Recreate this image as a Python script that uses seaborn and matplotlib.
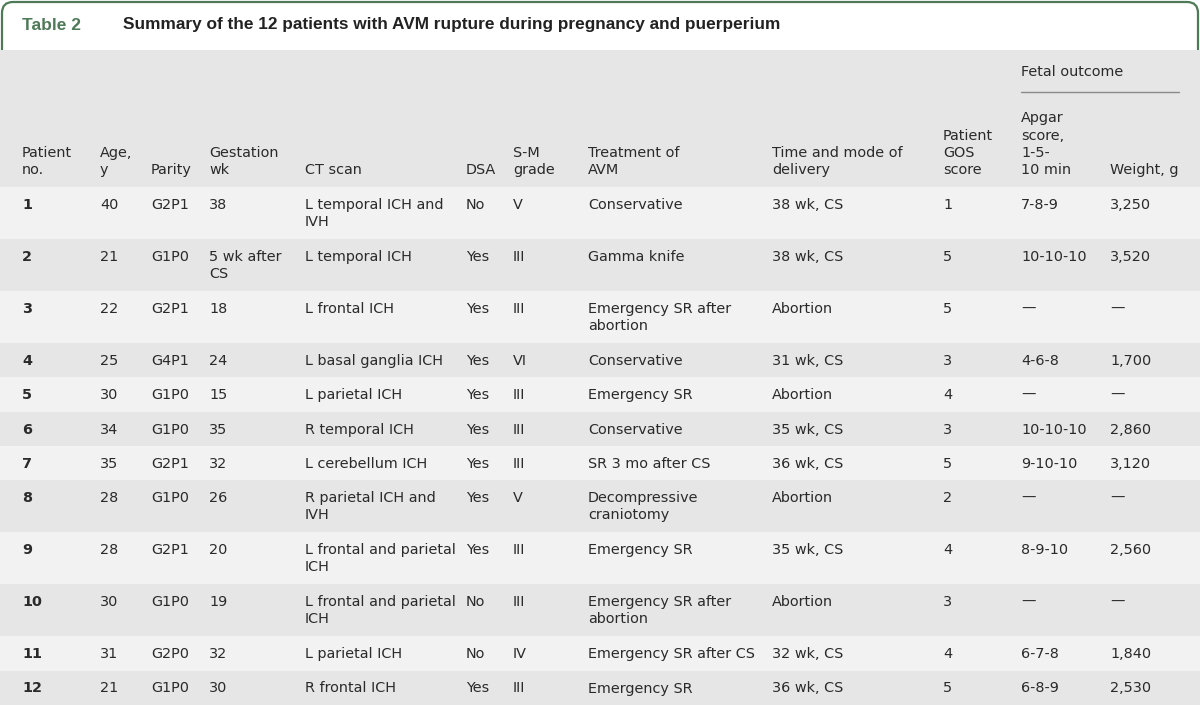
import matplotlib
matplotlib.use("Agg")
import matplotlib.pyplot as plt
from matplotlib.patches import Rectangle, FancyBboxPatch
import seaborn as sns

# table content
header_labels = ["Patient\nno.", "Age,\ny", "Parity", "Gestation\nwk", "CT scan", "DSA",
                 "S-M\ngrade", "Treatment of\nAVM", "Time and mode of\ndelivery",
                 "Patient\nGOS\nscore", "Apgar\nscore,\n1-5-\n10 min", "Weight, g"]
patient_no = ["1", "2", "3", "4", "5", "6", "7", "8", "9", "10", "11", "12"]
ages = ["40", "21", "22", "25", "30", "34", "35", "28", "28", "30", "31", "21"]
parity = ["G2P1", "G1P0", "G2P1", "G4P1", "G1P0", "G1P0", "G2P1", "G1P0", "G2P1",
          "G1P0", "G2P0", "G1P0"]
gestation = ["38", "5 wk after\nCS", "18", "24", "15", "35", "32", "26", "20", "19",
             "32", "30"]
ct_scan = ["L temporal ICH and\nIVH", "L temporal ICH", "L frontal ICH",
           "L basal ganglia ICH", "L parietal ICH", "R temporal ICH",
           "L cerebellum ICH", "R parietal ICH and\nIVH",
           "L frontal and parietal\nICH", "L frontal and parietal\nICH",
           "L parietal ICH", "R frontal ICH"]
dsa = ["No", "Yes", "Yes", "Yes", "Yes", "Yes", "Yes", "Yes", "Yes", "No", "No", "Yes"]
sm_grade = ["V", "III", "III", "VI", "III", "III", "III", "V", "III", "III", "IV", "III"]
treatment = ["Conservative", "Gamma knife", "Emergency SR after\nabortion",
             "Conservative", "Emergency SR", "Conservative", "SR 3 mo after CS",
             "Decompressive\ncraniotomy", "Emergency SR",
             "Emergency SR after\nabortion", "Emergency SR after CS", "Emergency SR"]
delivery = ["38 wk, CS", "38 wk, CS", "Abortion", "31 wk, CS", "Abortion",
            "35 wk, CS", "36 wk, CS", "Abortion", "35 wk, CS", "Abortion",
            "32 wk, CS", "36 wk, CS"]
gos = ["1", "5", "5", "3", "4", "3", "5", "2", "4", "3", "4", "5"]
apgar = ["7-8-9", "10-10-10", "—", "4-6-8", "—", "10-10-10", "9-10-10", "—",
         "8-9-10", "—", "6-7-8", "6-8-9"]
weight = ["3,250", "3,520", "—", "1,700", "—", "2,860", "3,120", "—", "2,560",
          "—", "1,840", "2,530"]

columns = [patient_no, ages, parity, gestation, ct_scan, dsa, sm_grade, treatment,
           delivery, gos, apgar, weight]

sns.set_theme(style="white")
plt.rcParams["font.family"] = ["DejaVu Sans"]

W, H = 1200, 705
fig = plt.figure(figsize=(W / 100, H / 100), dpi=100)
ax = fig.add_axes([0, 0, 1, 1])
ax.set_xlim(0, W)
ax.set_ylim(H, 0)
ax.axis("off")

green = "#4e7a58"
text_col = "#2a2a2a"
fs = 10.4

col_x = [22, 100, 151, 209, 305, 466, 513, 588, 772, 943, 1021, 1110]

# title box with rounded top corners (bottom hidden under header)
ax.add_patch(FancyBboxPatch((2, 2), W - 4, 90, boxstyle="round,pad=0,rounding_size=11",
                            fill=False, edgecolor=green, lw=1.6, zorder=1))
ax.text(22, 25, "Table 2", color=green, fontsize=12.5, fontweight="bold", va="center",
        family="Liberation Sans")
ax.text(123, 25, "Summary of the 12 patients with AVM rupture during pregnancy and puerperium",
        color="#222222", fontsize=12.4, fontweight="bold", va="center",
        family="Liberation Sans")

# header
header_top, header_bottom = 50, 187
ax.add_patch(Rectangle((0, header_top), W, header_bottom - header_top,
                       facecolor="#e6e6e6", edgecolor="none", zorder=2))
line_h = 17.2
for x, lab in zip(col_x, header_labels):
    lines = lab.split("\n")
    for k, ln in enumerate(reversed(lines)):
        ax.text(x, 170 - k * line_h, ln, fontsize=fs, color=text_col,
                va="center", ha="left", zorder=3)
ax.text(1021, 72, "Fetal outcome", fontsize=fs, color=text_col, va="center", zorder=3)
ax.plot([1021, 1179], [92, 92], color="#8a8a8a", lw=1, zorder=3)

# body rows
n_lines = [max(len(c[i].split("\n")) for c in columns) for i in range(len(patient_no))]
y = header_bottom
for i, nl in enumerate(n_lines):
    h = 34.3 if nl == 1 else 52
    bg = "#f2f2f2" if i % 2 == 0 else "#e6e6e6"
    ax.add_patch(Rectangle((0, y), W, h, facecolor=bg, edgecolor="none", zorder=2))
    for j, (x, col) in enumerate(zip(col_x, columns)):
        for k, ln in enumerate(col[i].split("\n")):
            ax.text(x, y + 18 + k * 17, ln, fontsize=fs, color=text_col, va="center",
                    ha="left", fontweight="bold" if j == 0 else "normal", zorder=3)
    y += h

fig.savefig("out.png", dpi=100)
